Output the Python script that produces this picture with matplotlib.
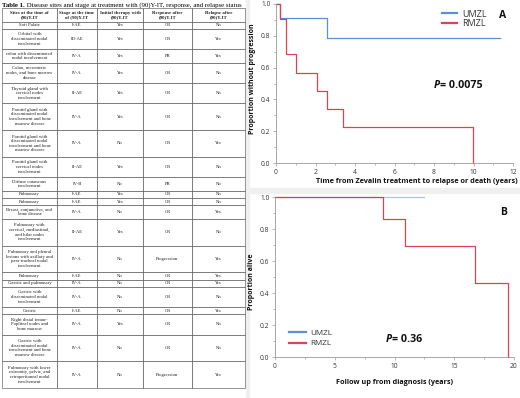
import matplotlib
matplotlib.use("Agg")
import matplotlib.pyplot as plt
import matplotlib.transforms as mtransforms
from matplotlib.lines import Line2D
from matplotlib.patches import Rectangle
from matplotlib.ticker import MultipleLocator

# ---------------------------------------------------------------------
# Table data
# ---------------------------------------------------------------------
col_labels = ["Sites at the time of\n(90)Y-IT", "Stage at the time\nof (90)Y-IT",
              "Initial therapy with\n(90)Y-IT", "Response after\n(90)Y-IT",
              "Relapse after\n(90)Y-IT"]
sites = [
    "Soft Palate",
    "Orbital with\ndisseminated nodal\ninvolvement",
    "colon with disseminated\nnodal involvement",
    "Colon, mesenteric\nnodes, and bone marrow\ndisease",
    "Thyroid gland with\ncervical nodes\ninvolvement",
    "Parotid gland with\ndisseminated nodal\ninvolvement and bone\nmarrow disease",
    "Parotid gland with\ndisseminated nodal\ninvolvement and bone\nmarrow disease",
    "Parotid gland with\ncervical nodes\ninvolvement",
    "Diffuse cutaneous\ninvolvement",
    "Pulmonary",
    "Pulmonary",
    "Breast, conjunctiva, and\nbone disease",
    "Pulmonary with\ncervical, mediastinal,\nand hilar nodes\ninvolvement",
    "Pulmonary and pleural\nlesions with axillary and\npara-tracheal nodal\ninvolvement",
    "Pulmonary",
    "Gastric and pulmonary",
    "Gastric with\ndisseminated nodal\ninvolvement",
    "Gastric",
    "Right distal femur-\nPopliteal nodes and\nbone marrow",
    "Gastric with\ndisseminated nodal\ninvolvement and bone\nmarrow disease",
    "Pulmonary with lower\nextremity, pelvic, and\nretroperitoneal nodal\ninvolvement",
]
stages = ["I-AE", "III-AE", "IV-A", "IV-A", "II-AE", "IV-A", "IV-A", "II-AE", "IV-B",
          "I-AE", "I-AE", "IV-A", "II-AE", "IV-A", "I-AE", "IV-A", "IV-A", "I-AE",
          "IV-A", "IV-A", "IV-A"]
initial = ["Yes", "Yes", "Yes", "Yes", "Yes", "Yes", "No", "Yes", "No", "Yes", "Yes",
           "No", "Yes", "No", "No", "No", "No", "No", "Yes", "No", "No"]
response = ["CR", "CR", "PR", "CR", "CR", "CR", "CR", "CR", "PR", "CR", "CR", "CR",
            "CR", "Progression", "CR", "CR", "CR", "CR", "CR", "CR", "Progression"]
relapse = ["No", "Yes", "Yes", "No", "No", "No", "Yes", "No", "No", "No", "No", "Yes",
           "No", "Yes", "Yes", "Yes", "No", "Yes", "No", "No", "Yes"]

# ---------------------------------------------------------------------
# Kaplan-Meier curves
# ---------------------------------------------------------------------
a_umzl_t = [0, 0.22, 2.58, 11.36]
a_umzl_s = [1.0, 0.91, 0.785, 0.785]
a_rmzl_t = [0, 0.2, 0.52, 1.01, 2.1, 2.56, 3.38, 9.98]
a_rmzl_s = [1.0, 0.905, 0.684, 0.567, 0.454, 0.339, 0.224, 0.0]

b_umzl_t = [0, 12.45]
b_umzl_s = [1.0, 1.0]
b_rmzl_t = [0, 9.05, 10.9, 16.74, 19.5]
b_rmzl_s = [1.0, 0.863, 0.695, 0.465, 0.0]

W, H = 520, 398
fig = plt.figure(figsize=(W / 100, H / 100), dpi=100)
fig.patch.set_facecolor('white')

def px_axes(x0, y0, x1, y1, **kw):
    # axes from pixel box (top-left origin)
    return fig.add_axes([x0 / W, 1 - y1 / H, (x1 - x0) / W, (y1 - y0) / H], **kw)

# light grey frame around the right-hand panels (behind everything)
fig.patches.append(Rectangle((245.5 / W, 0), 3 / W, 1, transform=fig.transFigure,
                             color='#f0f0f0', zorder=-5))
fig.patches.append(Rectangle((248 / W, 1 - 193 / H), 1 - 248 / W, 5 / H,
                             transform=fig.transFigure, color='#f0f0f0', zorder=-5))

# =====================================================================
# Table
# =====================================================================
serif = 'Liberation Serif'
t1 = fig.text(2 / W, 1 - 7 / H, "Table 1.", family=serif, weight='bold', fontsize=4.9,
              va='baseline')
r = fig.canvas.get_renderer()
bb = t1.get_window_extent(r)
fig.text(2 / W, 1 - 7 / H, " Disease sites and stage at treatment with (90)Y-IT, response, and relapse status",
         family=serif, fontsize=4.9, va='baseline',
         transform=mtransforms.offset_copy(fig.transFigure, fig=fig, x=bb.width * 72 / 100,
                                           units='points'))

tax = px_axes(2, 8, 245, 388)
tax.axis('off')
cells = [list(row) for row in zip(sites, stages, initial, response, relapse)]
tbl = tax.table(cellText=cells, colLabels=col_labels, cellLoc='center',
                colWidths=[55, 40, 46, 49, 53], bbox=[0, 0, 1, 1])
tbl.auto_set_font_size(False)
tbl.set_fontsize(3.4)
for (i, j), cell in tbl.get_celld().items():
    nlines = max(len(cells[i - 1][k].split('\n')) for k in range(5)) if i > 0 else 2
    cell.set_height(nlines + 0.11)
    cell.set_linewidth(0.4)
    cell.set_edgecolor('#444444')
    cell.get_text().set_family(serif)
    cell.get_text().set_color('#222222')
    if i == 0:
        cell.get_text().set_weight('bold')
        cell.get_text().set_fontsize(3.5)

# =====================================================================
# KM panels
# =====================================================================
sans = 'Open Sans'
blue = '#5b8fd6'
red = '#d94452'
tick_col = '#333333'

def style_axes(ax):
    for s in ['top', 'right']:
        ax.spines[s].set_visible(False)
    for s in ['left', 'bottom']:
        ax.spines[s].set_color('#9a9a9a')
        ax.spines[s].set_linewidth(0.6)
    ax.set_ylim(0, 1.0)
    ax.yaxis.set_major_locator(MultipleLocator(0.2))
    ax.yaxis.set_minor_locator(MultipleLocator(0.1))
    ax.tick_params(which='both', colors='#9a9a9a', labelcolor=tick_col, labelsize=4.8,
                   width=0.5, pad=1.5)
    ax.tick_params(which='major', length=2.5)
    ax.tick_params(which='minor', length=1.5)
    ax.yaxis.set_major_formatter(plt.FuncFormatter(lambda v, p: f"{v:.1f}"))
    for lab in ax.get_xticklabels() + ax.get_yticklabels():
        lab.set_family(sans)

# ---- Panel A
axA = px_axes(276, 4, 513, 163)
axA.step(a_umzl_t, a_umzl_s, where='post', color=blue, lw=0.9, clip_on=False)
axA.step(a_rmzl_t, a_rmzl_s, where='post', color=red, lw=0.9, clip_on=False)
axA.set_xlim(0, 12)
axA.xaxis.set_major_locator(MultipleLocator(2))
axA.xaxis.set_minor_locator(MultipleLocator(1))
style_axes(axA)
axA.set_xlabel("Time from Zevalin treatment to relapse or death (years)", family=sans,
               weight='bold', fontsize=5.2, color='#111111', x=1.018,
               horizontalalignment='right', labelpad=1.5)
axA.set_ylabel("Proportion without progression", family=sans, weight='bold',
               fontsize=5.0, color='#111111')
axA.yaxis.set_label_coords(-0.085, 0.53)

handles = [Line2D([], [], color=blue, lw=1.6), Line2D([], [], color=red, lw=1.6)]
axA.legend(handles, ["UMZL", "RMZL"], loc='upper left', bbox_to_anchor=(0.70, 0.965),
           frameon=False, prop={'family': sans, 'size': 6.5}, handlelength=1.7,
           handletextpad=0.5, labelspacing=0.1, borderpad=0, borderaxespad=0,
           labelcolor='#333333')
axA.text(0.955, 0.925, "A", transform=axA.transAxes, family=sans, weight='bold',
         fontsize=7.5, ha='center', va='center', color='#111111')
tp = axA.text(8.0, 0.47, "P", family=sans, weight='bold', style='italic', fontsize=7.7,
              va='baseline', color='#111111')
bbp = tp.get_window_extent(r)
axA.text(8.0, 0.47, "= 0.0075", family=sans, weight='bold', fontsize=7.7, va='baseline',
         color='#111111',
         transform=mtransforms.offset_copy(axA.transData, fig=fig,
                                           x=bbp.width * 72 / 100, units='points'))

# ---- Panel B
axB = px_axes(275, 197, 514, 357)
axB.step(b_umzl_t, b_umzl_s, where='post', color='#a9c4e8', lw=0.9, clip_on=False)
axB.step(b_rmzl_t, b_rmzl_s, where='post', color=red, lw=0.9, clip_on=False)
axB.set_xlim(0, 20)
axB.xaxis.set_major_locator(MultipleLocator(5))
axB.xaxis.set_minor_locator(MultipleLocator(2.5))
style_axes(axB)
axB.set_xlabel("Follow up from diagnosis (years)", family=sans, weight='bold',
               fontsize=5.2, color='#111111', labelpad=7)
axB.set_ylabel("Proportion alive", family=sans, weight='bold', fontsize=5.0,
               color='#111111')
axB.yaxis.set_label_coords(-0.085, 0.47)
axB.legend(handles, ["UMZL", "RMZL"], loc='lower left', bbox_to_anchor=(0.06, 0.06),
           frameon=False, prop={'family': sans, 'size': 5.9}, handlelength=2.0,
           handletextpad=0.6, labelspacing=0.35, borderpad=0, borderaxespad=0,
           labelcolor='#333333')
axB.text(0.955, 0.905, "B", transform=axB.transAxes, family=sans, weight='bold',
         fontsize=7.5, ha='center', va='center', color='#111111')
tp2 = axB.text(9.3, 0.095, "P", family=sans, weight='bold', style='italic', fontsize=7.7,
               va='baseline', color='#111111')
bbp2 = tp2.get_window_extent(r)
axB.text(9.3, 0.095, "= 0.36", family=sans, weight='bold', fontsize=7.7, va='baseline',
         color='#111111',
         transform=mtransforms.offset_copy(axB.transData, fig=fig,
                                           x=bbp2.width * 72 / 100, units='points'))

fig.savefig("out.png", dpi=100)
